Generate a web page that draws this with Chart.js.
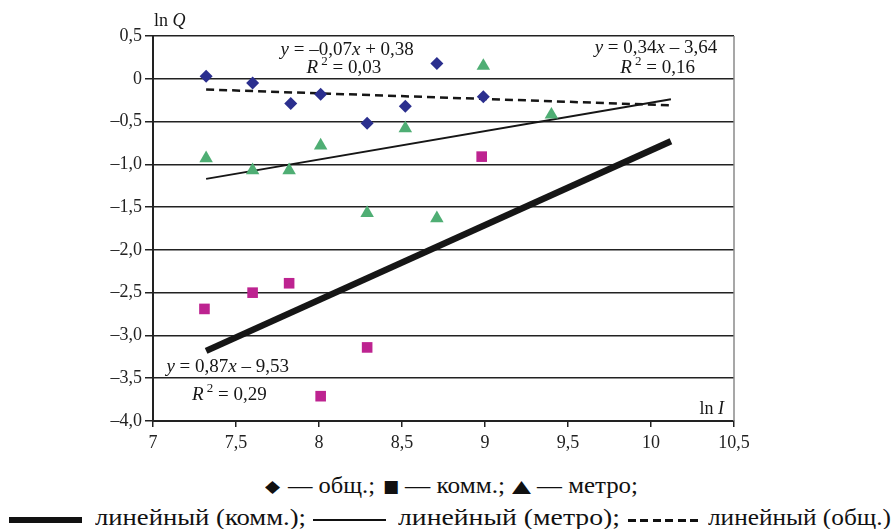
<!DOCTYPE html>
<html><head><meta charset="utf-8">
<script src="https://cdn.jsdelivr.net/npm/chart.js@4.4.1/dist/chart.umd.min.js"></script>
<style>
html,body{margin:0;padding:0;background:#fff;}
#wrap{position:relative;width:893px;height:529px;overflow:hidden;background:#fff;}
#c{position:absolute;left:0;top:0;}
.t{position:absolute;font-family:"Liberation Serif",serif;font-size:24px;color:#111;white-space:nowrap;transform-origin:0 0;line-height:1;}
.sym{font-family:"DejaVu Sans",sans-serif;font-size:17px;}
.ln{position:absolute;background:#111;}
.dash{position:absolute;height:2.5px;background:repeating-linear-gradient(to right,#111 0 8px,transparent 8px 12.5px);}
</style></head>
<body>
<div id="wrap">
<canvas id="c" width="893" height="460"></canvas>
<!-- legend line 1 -->
<span class="t sym" data-l="265" data-w="15" style="top:478px">◆</span>
<span class="t" data-l="288" data-w="87" style="top:473px">— общ.;</span>
<span class="t sym" data-l="383" data-w="16" style="top:478px">■</span>
<span class="t" data-l="405" data-w="100" style="top:473px">— комм.;</span>
<span class="t sym" data-l="512" data-w="19" style="top:478px">▲</span>
<span class="t" data-l="537" data-w="101" style="top:473px">— метро;</span>
<!-- legend line 2 -->
<div class="ln" style="left:9px;top:517px;width:73px;height:6px"></div>
<span class="t" data-l="95" data-w="211" style="top:505px">линейный (комм.);</span>
<div class="ln" style="left:313px;top:519px;width:73px;height:2px"></div>
<span class="t" data-l="398" data-w="222" style="top:505px">линейный (метро);</span>
<div class="dash" style="left:628px;top:519px;width:70px"></div>
<span class="t" data-l="708" data-w="183" style="top:505px">линейный (общ.)</span>
</div>
<script>
// ---- data ----
const obshX  = [7.32, 7.60, 7.83, 8.01, 8.29, 8.52, 8.71, 8.99];
const obshY  = [0.03, -0.05, -0.29, -0.18, -0.52, -0.32, 0.18, -0.21];
const kommX  = [7.31, 7.60, 7.82, 8.01, 8.29, 8.98];
const kommY  = [-2.69, -2.50, -2.39, -3.71, -3.14, -0.91];
const metroX = [7.32, 7.60, 7.82, 8.01, 8.29, 8.52, 8.71, 8.99, 9.40];
const metroY = [-0.93, -1.07, -1.07, -0.78, -1.57, -0.58, -1.63, 0.15, -0.42];
// trend line end points
const trendKommX  = [7.32, 10.12];
const trendKommY  = [-3.18, -0.73];
const trendMetroX = [7.32, 10.12];
const trendMetroY = [-1.17, -0.24];
const trendObshX  = [7.32, 10.12];
const trendObshY  = [-0.125, -0.31];
// tick labels
const xTickLabels = ['7', '7,5', '8', '8,5', '9', '9,5', '10', '10,5'];
const yTickLabels = ['0,5', '0', '–0,5', '–1,0', '–1,5', '–2,0', '–2,5', '–3,0', '–3,5', '–4,0'];
// equation texts
const eqObsh  = [['y', 'i'], [' = –0,07'], ['x', 'i'], [' + 0,38']];
const r2Obsh  = [['R', 'i'], [' 2', 's'], [' = 0,03']];
const eqMetro = [['y', 'i'], [' = 0,34'], ['x', 'i'], [' – 3,64']];
const r2Metro = [['R', 'i'], [' 2', 's'], [' = 0,16']];
const eqKomm  = [['y', 'i'], [' = 0,87'], ['x', 'i'], [' – 9,53']];
const r2Komm  = [['R', 'i'], [' 2', 's'], [' = 0,29']];
const axisYTitle = [['ln '], ['Q', 'i']];
const axisXTitle = [['ln '], ['I', 'i']];

const pts = (xs, ys) => xs.map((x, i) => ({x, y: ys[i]}));

// annotation anchors (data coordinates)
const notes = [
  {parts: eqObsh,  x: 8.17, y: 0.275},
  {parts: r2Obsh,  x: 8.15, y: 0.065},
  {parts: eqMetro, x: 10.03, y: 0.30},
  {parts: r2Metro, x: 10.04, y: 0.065},
  {parts: eqKomm,  x: 7.45, y: -3.43},
  {parts: r2Komm,  x: 7.46, y: -3.75}
];

const FAM = '"Liberation Serif", "Times New Roman", serif';
function fontFor(k, size) {
  if (k === 's') return Math.round(size * 0.68) + 'px ' + FAM;
  return (k === 'i' ? 'italic ' : '') + size + 'px ' + FAM;
}
function drawRich(ctx, parts, x, y, align, size) {
  let w = 0;
  parts.forEach(p => { ctx.font = fontFor(p[1], size); w += ctx.measureText(p[0]).width; });
  let cx = align === 'center' ? x - w / 2 : (align === 'right' ? x - w : x);
  ctx.textAlign = 'left';
  ctx.textBaseline = 'alphabetic';
  parts.forEach(p => {
    ctx.font = fontFor(p[1], size);
    ctx.fillText(p[0], cx, p[1] === 's' ? y - size * 0.42 : y);
    cx += ctx.measureText(p[0]).width;
  });
}

const decor = {
  id: 'decor',
  afterDraw(chart) {
    const {ctx, chartArea: a, scales: {x, y}} = chart;
    ctx.save();
    // right border
    ctx.strokeStyle = '#8a8a8a';
    ctx.lineWidth = 1.5;
    ctx.beginPath();
    ctx.moveTo(a.right, a.top);
    ctx.lineTo(a.right, a.bottom);
    ctx.stroke();
    ctx.fillStyle = '#161616';
    notes.forEach(n => drawRich(ctx, n.parts, x.getPixelForValue(n.x), y.getPixelForValue(n.y), 'center', 19));
    drawRich(ctx, axisYTitle, a.left + 1, a.top - 10, 'left', 18);
    drawRich(ctx, axisXTitle, a.right - 10, a.bottom - 7, 'right', 18);
    ctx.restore();
  }
};

const tickFont = {family: FAM, size: 18};

new Chart(document.getElementById('c'), {
  type: 'scatter',
  data: {
    datasets: [
      {label: 'общ.', data: pts(obshX, obshY), pointStyle: 'rectRot', pointRadius: 6.5,
       backgroundColor: '#2B2F8E', borderWidth: 0, showLine: false},
      {label: 'комм.', data: pts(kommX, kommY), pointStyle: 'rect', pointRadius: 7.5,
       backgroundColor: '#BD2390', borderWidth: 0, showLine: false},
      {label: 'метро', data: pts(metroX, metroY), pointStyle: 'triangle', pointRadius: 7.8,
       backgroundColor: '#4FAE74', borderWidth: 0, showLine: false},
      {label: 'линейный (общ.)', data: pts(trendObshX, trendObshY), showLine: true, pointRadius: 0,
       borderColor: '#161616', borderWidth: 2.5, borderDash: [8, 5]},
      {label: 'линейный (метро)', data: pts(trendMetroX, trendMetroY), showLine: true, pointRadius: 0,
       borderColor: '#161616', borderWidth: 2},
      {label: 'линейный (комм.)', data: pts(trendKommX, trendKommY), showLine: true, pointRadius: 0,
       borderColor: '#161616', borderWidth: 6.5, borderCapStyle: 'butt'}
    ]
  },
  options: {
    responsive: false,
    animation: false,
    devicePixelRatio: 1,
    layout: {padding: {top: 36, right: 159, bottom: 9, left: 0}},
    plugins: {legend: {display: false}, tooltip: {enabled: false}},
    scales: {
      x: {
        type: 'linear', min: 7, max: 10.5,
        afterFit(s) { s.height = 30; },
        ticks: {stepSize: 0.5, padding: 5, color: '#222', font: tickFont, maxRotation: 0, autoSkip: false,
                callback: (v, i) => xTickLabels[i]},
        grid: {drawOnChartArea: false, drawTicks: true, tickLength: 6, color: '#222', lineWidth: 1.5},
        border: {display: true, color: '#222', width: 2}
      },
      y: {
        type: 'linear', min: -4, max: 0.5,
        afterFit(s) { s.width = 153; },
        ticks: {stepSize: 0.5, padding: 3, color: '#222', font: tickFont,
                callback: v => yTickLabels[Math.round((0.5 - v) / 0.5)]},
        grid: {color: '#222', lineWidth: 1.5, tickLength: 8},
        border: {display: true, color: '#222', width: 2}
      }
    }
  },
  plugins: [decor]
});

function fitLegend() {
  document.querySelectorAll('.t').forEach(el => {
    el.style.transform = 'none';
    el.style.left = el.dataset.l + 'px';
    const w = el.getBoundingClientRect().width;
    const target = parseFloat(el.dataset.w);
    if (w > 0) el.style.transform = 'scaleX(' + (target / w) + ')';
  });
}
fitLegend();
if (document.fonts && document.fonts.ready) document.fonts.ready.then(fitLegend);
</script>
</body></html>
